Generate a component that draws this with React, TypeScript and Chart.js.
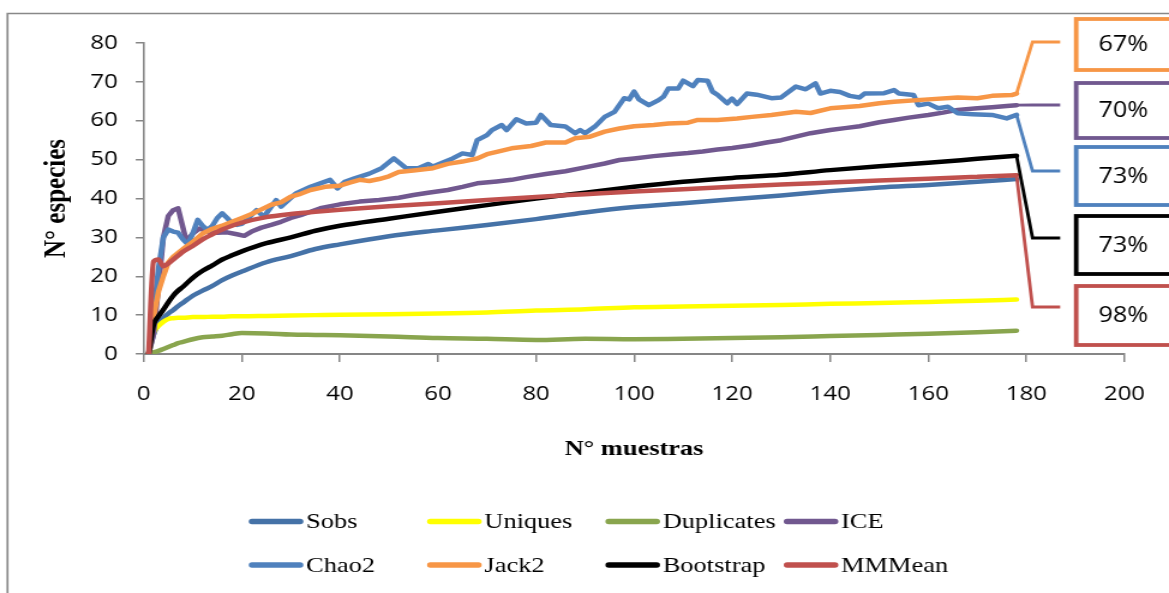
import React, { useEffect, useRef } from 'react';
import { Chart, registerables } from 'chart.js';

Chart.register(...registerables);

// ---------- data ----------
const seriesNames = ['Sobs', 'Uniques', 'Duplicates', 'ICE', 'Chao2', 'Jack2', 'Bootstrap', 'MMMean'];
const seriesColors = ['#4572A7', '#FFFF00', '#89A54E', '#71588F', '#4F81BD', '#F79646', '#000000', '#C0504D'];

const xTicks = [0, 20, 40, 60, 80, 100, 120, 140, 160, 180, 200];
const yTicks = [0, 10, 20, 30, 40, 50, 60, 70, 80];

const smoothSamples = [1, 2, 3, 4, 5, 6, 7, 8, 10, 12, 14, 16, 18, 20, 25, 30, 35, 40, 50, 60, 70, 80, 90, 100, 110, 120, 130, 140, 150, 160, 170, 178];
const sobs = [0, 5, 7.8, 9.3, 10.4, 11.3, 12.3, 13.2, 15, 16.3, 17.5, 19, 20.2, 21.2, 23.6, 25.2, 27, 28.2, 30.3, 31.8, 33.2, 34.7, 36.4, 37.8, 38.8, 39.8, 40.8, 41.9, 42.8, 43.5, 44.3, 45];
const uniques = [0, 5.5, 7.2, 8.3, 9, 9.2, 9.3, 9.3, 9.5, 9.5, 9.6, 9.6, 9.7, 9.7, 9.8, 9.9, 10, 10.1, 10.2, 10.4, 10.7, 11.2, 11.5, 12, 12.2, 12.4, 12.6, 12.9, 13.1, 13.4, 13.7, 14];
const duplicates = [0, 0.4, 0.8, 1.3, 1.8, 2.3, 2.8, 3.1, 3.8, 4.3, 4.5, 4.7, 5.1, 5.4, 5.3, 5, 4.9, 4.8, 4.5, 4.1, 3.9, 3.6, 3.9, 3.8, 3.9, 4.1, 4.3, 4.6, 4.9, 5.2, 5.6, 6];
const bootstrap = [0, 7.5, 9.7, 11.4, 13.3, 15, 16.3, 17.3, 19.6, 21.4, 22.8, 24.3, 25.4, 26.4, 28.5, 30, 31.7, 33, 34.8, 36.6, 38.3, 40, 41.5, 43, 44.3, 45.3, 46.1, 47.3, 48.3, 49.2, 50.2, 51];
const mmMean = [0, 23.8, 24.3, 22.6, 23.3, 24.3, 25.3, 26.3, 27.8, 29.5, 30.8, 32, 33, 33.8, 35.2, 36, 36.6, 37.1, 38, 38.8, 39.6, 40.4, 41.1, 41.8, 42.4, 43, 43.6, 44.1, 44.6, 45.1, 45.6, 46];

const iceSamples = [1, 2, 3, 4, 5, 6, 7, 7.8, 8.7, 10, 11.4, 13, 15, 17, 19, 20.5, 22, 24, 26, 28, 30, 32, 36, 40, 44, 48, 52, 55, 58, 62, 65, 68, 72, 75, 78, 82, 86, 90, 94, 97, 100, 104, 108, 111, 114, 117, 120, 124, 127, 130, 133, 136, 140, 143, 146, 150, 153, 156, 160, 163, 166, 170, 173, 176, 178];
const ice = [0, 5, 17, 30, 35.5, 37, 37.5, 33.5, 29, 31, 32.3, 31.5, 31.2, 31.3, 30.8, 30.4, 31.5, 32.5, 33.2, 34, 35, 35.7, 37.5, 38.5, 39.2, 39.6, 40.2, 40.9, 41.5, 42.2, 43, 43.9, 44.4, 44.8, 45.5, 46.3, 47, 48, 49, 49.9, 50.3, 50.9, 51.4, 51.7, 52.1, 52.6, 53, 53.7, 54.4, 55, 55.9, 56.8, 57.6, 58.1, 58.6, 59.6, 60.2, 60.8, 61.5, 62.1, 62.8, 63.2, 63.5, 63.8, 64];

const chaoSamples = [1, 2, 3, 4, 5, 6, 7, 8, 9, 10, 11, 12, 13, 14, 15, 16, 17, 18, 19, 20, 21, 23, 24.5, 27, 28, 31, 34, 38, 39.5, 41, 43, 46, 48.5, 51, 53.5, 56, 58, 59, 63, 65, 67, 68, 70, 71, 73, 74, 76, 78, 80, 81, 83, 86, 88, 89, 90, 92, 94, 96, 98, 99, 100, 101, 103, 105, 106, 107, 109, 110, 112, 113, 115, 116, 117, 119, 120, 121, 123, 125, 128, 130, 133, 135, 137, 138, 140, 142, 144, 146, 147, 151, 153, 154, 157, 158, 160, 162, 164, 166, 169, 173, 176, 178];
const chao2 = [0, 10, 22, 30, 32, 31.5, 31.2, 29.5, 28.2, 31, 34.5, 33, 31.9, 33, 35, 36.2, 35, 33.6, 33.2, 33.5, 34.5, 37, 35.3, 39.6, 37.9, 41.3, 43, 44.8, 42.6, 44.3, 45.2, 46.4, 47.8, 50.3, 47.8, 47.8, 48.9, 48.2, 50.3, 51.6, 51.2, 55, 56.3, 57.6, 58.9, 57.6, 60.4, 59.3, 59.5, 61.5, 58.9, 58.5, 56.8, 57.6, 56.8, 58.5, 61, 62.3, 65.8, 65.5, 67.5, 65.5, 64, 65.3, 66.2, 68.3, 68.3, 70.3, 68.9, 70.5, 70.3, 67.5, 66.7, 64.5, 65.7, 64.3, 67, 66.7, 65.8, 66, 68.8, 68.1, 69.6, 67, 67.7, 67.4, 66.4, 66, 67, 67.1, 67.9, 67, 66.6, 64, 64.4, 63.2, 63.6, 61.9, 61.7, 61.5, 60.6, 61.5];

const jackSamples = [1, 2, 3, 4, 5, 6, 7, 8, 10, 12, 14, 16, 18, 20, 22, 24, 26, 28, 30, 32, 34, 37, 40, 42, 44, 46, 48, 50, 52, 55, 59, 62, 65, 68, 70, 72, 75, 79, 82, 86, 88, 91, 94, 97, 100, 104, 107, 111, 113, 117, 121, 124, 128, 133, 136, 140, 146, 150, 153, 160, 166, 170, 173, 177, 178];
const jack2 = [0, 9.5, 16, 20, 23.5, 25, 26, 27, 28.8, 31, 32.2, 33, 34, 35, 36, 37.2, 38.4, 39, 40.5, 41.2, 42.2, 43, 43.3, 44.1, 44.8, 44.5, 45, 45.7, 46.8, 47.2, 47.8, 48.9, 49.5, 50.3, 51.4, 52, 52.9, 53.5, 54.4, 54.4, 55.5, 55.9, 57.2, 58, 58.6, 58.9, 59.3, 59.5, 60.2, 60.2, 60.6, 61, 61.5, 62.3, 62, 63.2, 63.8, 64.5, 64.9, 65.5, 66, 65.8, 66.4, 66.6, 67];

// callouts: series index, label
const calloutSeries = [5, 3, 4, 6, 7];
const calloutLabels = ['67%', '70%', '73%', '73%', '98%'];

// ---------- layout (canvas is drawn narrower and stretched horizontally) ----------
const PAGE_W = 1169;
const PAGE_H = 593;
const SX = 1.2;
const CW = Math.round(PAGE_W / SX);
const px = (pagePx: number) => pagePx / SX;

const PLOT_LEFT = px(143.7);
const PLOT_RIGHT = px(1136.7);
const PLOT_TOP = 43;
const PLOT_BOTTOM = 354;

const boxRows = [[19, 70], [83, 138], [147, 205], [216, 274], [286, 345]];
const leaderRows = [42, 105, 171, 238, 307];

const pts = (xs: number[], ys: number[]) => xs.map((x, i) => ({ x, y: ys[i] }));

const seriesData = [
  pts(smoothSamples, sobs),
  pts(smoothSamples, uniques),
  pts(smoothSamples, duplicates),
  pts(iceSamples, ice),
  pts(chaoSamples, chao2),
  pts(jackSamples, jack2),
  pts(smoothSamples, bootstrap),
  pts(smoothSamples, mmMean),
];
const smoothFlags = [true, true, true, false, false, false, true, true];

const serif = "'Liberation Serif', 'Times New Roman', serif";
const sans = "'Open Sans', 'Liberation Sans', sans-serif";

const decorPlugin = {
  id: 'decor',
  afterDatasetsDraw(chart: any) {
    const ctx = chart.ctx as CanvasRenderingContext2D;
    ctx.save();
    calloutSeries.forEach((si, k) => {
      const meta = chart.getDatasetMeta(si);
      const last = meta.data[meta.data.length - 1];
      const cy = leaderRows[k];
      ctx.beginPath();
      ctx.moveTo(last.x, last.y);
      ctx.lineTo(last.x + px(16), cy);
      ctx.lineTo(px(1060), cy);
      ctx.strokeStyle = seriesColors[si];
      ctx.lineWidth = 2.8;
      ctx.lineJoin = 'miter';
      ctx.lineCap = 'butt';
      ctx.stroke();
      const [t, b] = boxRows[k];
      const left = px(1076);
      ctx.fillStyle = '#ffffff';
      ctx.fillRect(left, t, 120, b - t);
      ctx.lineWidth = 3.8;
      ctx.strokeRect(left, t, 120, b - t);
      ctx.fillStyle = '#000000';
      ctx.font = `21px ${sans}`;
      ctx.textAlign = 'center';
      ctx.textBaseline = 'middle';
      ctx.fillText(calloutLabels[k], px(1123), (t + b) / 2 + 1);
    });
    ctx.restore();
  },
  afterDraw(chart: any) {
    const ctx = chart.ctx as CanvasRenderingContext2D;
    ctx.save();
    // outer frame (only top and left visible)
    ctx.strokeStyle = '#888888';
    ctx.lineWidth = 1.7;
    ctx.beginPath();
    ctx.moveTo(px(7.5), PAGE_H + 10);
    ctx.lineTo(px(7.5), 13.5);
    ctx.lineTo(CW + 10, 13.5);
    ctx.stroke();
    // legend
    const ds = chart.data.datasets;
    ds.forEach((d: any, i: number) => {
      const row = i < 4 ? 0 : 1;
      const col = i % 4;
      const x0 = px(249) + col * px(178.3);
      const y = row === 0 ? 521.5 : 565;
      ctx.beginPath();
      ctx.moveTo(x0 + 2.5, y);
      ctx.lineTo(x0 + px(54) - 2.5, y);
      ctx.strokeStyle = d.borderColor;
      ctx.lineWidth = 5.5;
      ctx.lineCap = 'round';
      ctx.stroke();
      ctx.fillStyle = '#000000';
      ctx.font = `22px ${serif}`;
      ctx.textAlign = 'left';
      ctx.textBaseline = 'middle';
      ctx.fillText(d.label, x0 + px(57), y + 1);
    });
    ctx.restore();
  },
};

export default function App() {
  const canvasRef = useRef<HTMLCanvasElement | null>(null);

  useEffect(() => {
    const canvas = canvasRef.current;
    if (!canvas) return;
    const chart = new Chart(canvas, {
      type: 'line',
      data: {
        datasets: seriesNames.map((name, i) => ({
          label: name,
          data: seriesData[i],
          borderColor: seriesColors[i],
          backgroundColor: seriesColors[i],
          borderWidth: 4.5,
          pointRadius: 0,
          fill: false,
          tension: 0,
          cubicInterpolationMode: smoothFlags[i] ? 'monotone' : 'default',
          borderJoinStyle: 'round',
          borderCapStyle: 'round',
          order: 7 - i,
        })),
      },
      options: {
        responsive: false,
        animation: false,
        devicePixelRatio: 1,
        events: [],
        layout: { padding: { top: PLOT_TOP, right: CW - PLOT_RIGHT, left: 0, bottom: 0 } },
        plugins: {
          legend: { display: false },
          tooltip: { enabled: false },
          title: { display: false },
        },
        scales: {
          x: {
            type: 'linear',
            min: xTicks[0],
            max: xTicks[xTicks.length - 1],
            afterBuildTicks: (s: any) => { s.ticks = xTicks.map((v) => ({ value: v })); },
            ticks: {
              color: '#000000',
              font: { family: sans, size: 20 },
              padding: 20,
              maxRotation: 0,
              autoSkip: false,
            },
            grid: { drawOnChartArea: false, drawTicks: true, tickLength: 8, color: '#868686', lineWidth: 1.5 },
            border: { color: '#868686', width: 2 },
            title: {
              display: true,
              text: 'N° muestras',
              color: '#000000',
              font: { family: serif, size: 22, weight: 'bold' },
              padding: { top: 0, bottom: 130 },
            },
            afterFit: (s: any) => { s.height = PAGE_H - PLOT_BOTTOM; },
          },
          y: {
            type: 'linear',
            min: yTicks[0],
            max: yTicks[yTicks.length - 1],
            afterBuildTicks: (s: any) => { s.ticks = yTicks.map((v) => ({ value: v })); },
            ticks: {
              color: '#000000',
              font: { family: sans, size: 20 },
              padding: 15,
              autoSkip: false,
            },
            grid: { drawOnChartArea: false, drawTicks: true, tickLength: px(8), color: '#868686', lineWidth: 1.5 },
            border: { color: '#868686', width: 1.6 },
            title: {
              display: true,
              text: 'N° especies',
              color: '#000000',
              font: { family: serif, size: 25, weight: 'bold' },
              padding: { top: 32.5, bottom: 0 },
            },
            afterFit: (s: any) => { s.width = PLOT_LEFT; },
          },
        },
      } as any,
      plugins: [decorPlugin],
    });
    return () => chart.destroy();
  }, []);

  return (
    <div style={{ position: 'absolute', left: 0, top: 0, width: PAGE_W, height: PAGE_H, background: '#ffffff', overflow: 'hidden' }}>
      <canvas
        ref={canvasRef}
        width={CW}
        height={PAGE_H}
        style={{ width: PAGE_W + 'px', height: PAGE_H + 'px', display: 'block' }}
      />
    </div>
  );
}
